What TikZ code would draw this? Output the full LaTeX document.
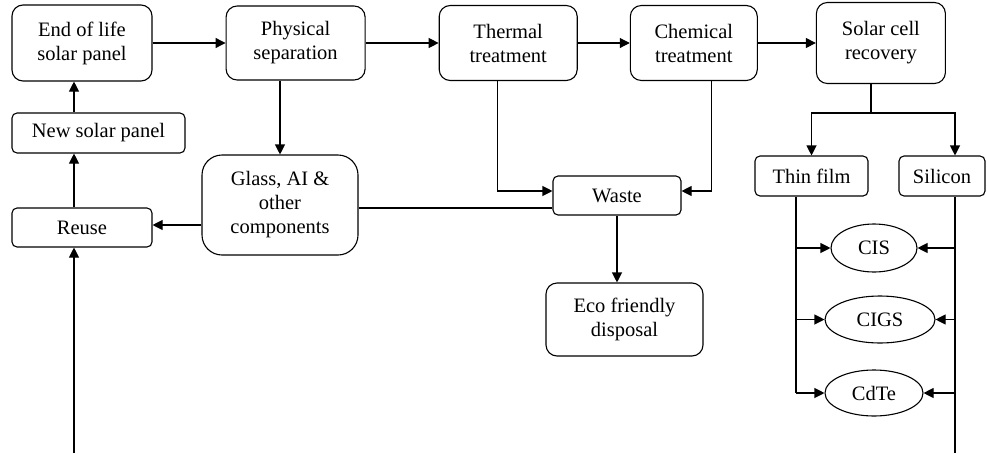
\documentclass[tikz,border=0pt]{standalone}
\usepackage{fontspec}
\setmainfont{Liberation Serif}
\usepackage{tikz}
\usetikzlibrary{positioning,arrows.meta,shapes.geometric}

\begin{document}
\begin{tikzpicture}[x=1pt, y=-1pt,
    >={Triangle[length=10pt,width=10pt]},
    line/.style={line width=1.1pt},
    arr/.style={line, ->},
    box/.style={draw, line, rounded corners=11pt, align=center, inner sep=0pt, font=\fontsize{20.5}{24}\selectfont},
    smallbox/.style={box, rounded corners=5pt, minimum height=40pt},
    oval/.style={draw, line, ellipse, inner sep=0pt, font=\fontsize{20.5}{24}\selectfont}]

    \useasboundingbox (0,0) rectangle (987,453);

    % riga in alto
    \node[box, minimum width=140pt, minimum height=76pt] (eol) at (82,43) {End of life\\solar panel};
    \node[box, minimum width=139pt, minimum height=74pt, right=73pt of eol] (phys) {Physical\\separation};
    \node[box, minimum width=138pt, minimum height=75pt, right=73pt of phys] (therm) {Thermal\\treatment};
    \node[box, minimum width=127pt, minimum height=75pt, right=52pt of therm] (chem) {Chemical\\treatment};
    \node[box, minimum width=129pt, minimum height=81pt, right=58pt of chem] (solar) {Solar cell\\recovery};

    \node[smallbox, minimum width=173pt] (newp) at (98.5,133) {New solar panel};
    \node[smallbox, minimum width=140pt, minimum height=39pt] (reuse) at (82,227.5) {Reuse};
    \node[box, rounded corners=20pt, minimum width=156pt, minimum height=100pt] (glass) at (280,205) {Glass, AI \&\\other\\components};
    \node[smallbox, minimum width=128pt, minimum height=39pt] (waste) at (617,195.5) {Waste};
    \node[box, minimum width=157pt, minimum height=73pt] (eco) at (624.5,319.5) {Eco friendly\\disposal};

    \node[smallbox, minimum width=113pt] (thin) at (811.5,176) {Thin film};
    \node[smallbox, minimum width=86pt] (sil) at (942,176) {Silicon};
    \node[oval, minimum width=86pt, minimum height=48pt] (cis) at (874,248) {CIS};
    \node[oval, minimum width=110pt, minimum height=47pt] (cigs) at (880,319.5) {CIGS};
    \node[oval, minimum width=98pt, minimum height=46pt] (cdte) at (874,393) {CdTe};

    \coordinate (lx) at (74,0);
    \coordinate (bot) at (74,453);
    \coordinate (split) at (871,113);
    \coordinate (tl) at (796,0);
    \coordinate (sl) at (955,0);

    \draw[arr] (eol.east) -- (phys.west);
    \draw[arr] (phys.east) -- (therm.west);
    \draw[arr] (therm.east) -- (chem.west);
    \draw[arr] (chem.east) -- (solar.west);

    % ritorno a sinistra
    \draw[arr] (bot) -- (reuse.south -| lx);
    \draw[arr] (reuse.north -| lx) -- (newp.south -| lx);
    \draw[arr] (newp.north -| lx) -- (eol.south -| lx);

    \draw[arr] (phys.south -| glass.north) -- (glass.north);
    \draw[arr] ([yshift=-20pt]glass.west) -- ([yshift=-20pt]glass.west -| reuse.east);
    \draw[line] ([yshift=-3pt]glass.east) -- ([yshift=-3pt]glass.east -| waste.west);
    \draw[arr] ([xshift=-11pt]therm.south) |- ([yshift=4.5pt]waste.west);
    \draw[arr] ([xshift=17.5pt]chem.south) |- ([yshift=4.5pt]waste.east);
    \draw[arr] (waste.south) -- (waste.south |- eco.north);

    % celle recuperate
    \draw[line] (solar.south -| split) -- (split);
    \draw[line, <->] (thin.north) |- (split) -| (sl |- sil.north);
    \draw[line] (thin.south -| tl) -- (tl |- cdte.west);
    \draw[line] (sil.south -| sl) -- (sl |- bot);
    \foreach \n in {cis,cigs,cdte} {
        \draw[arr] (tl |- \n.west) -- (\n.west);
        \draw[arr] (sl |- \n.east) -- (\n.east);
    }

\end{tikzpicture}
\end{document}
